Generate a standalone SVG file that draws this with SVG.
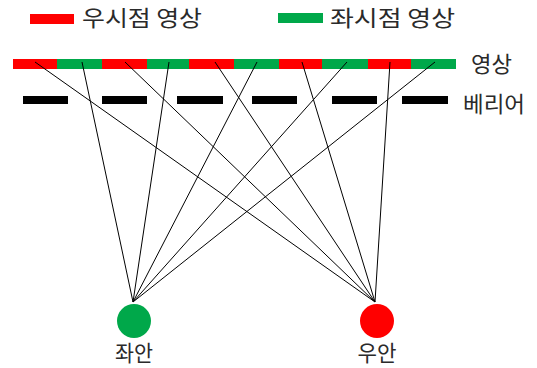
<svg xmlns="http://www.w3.org/2000/svg" width="537" height="368" viewBox="0 0 537 368">
<style>
.t{font-family:"Noto Sans CJK KR","Noto Sans",sans-serif;font-size:22px;fill:#2a2a2a}
.r{fill:#FF0000}
.g{fill:#00A84A}
.b{fill:#000}
.ln{stroke:#000;stroke-width:1;fill:none}
</style>
<rect width="537" height="368" fill="#fff"/>
<g id="legend-right">
<rect class="r" x="30" y="14" width="44" height="10"/>
<text class="t" x="82" y="26" textLength="120" lengthAdjust="spacingAndGlyphs">우시점 영상</text>
</g>
<g id="legend-left">
<rect class="g" x="278" y="13" width="45" height="10"/>
<text class="t" x="330" y="26" textLength="125" lengthAdjust="spacingAndGlyphs">좌시점 영상</text>
</g>
<g id="image">
<rect class="r" x="13" y="59" width="44" height="10"/>
<rect class="g" x="57" y="59" width="45" height="10"/>
<rect class="r" x="102" y="59" width="45" height="10"/>
<rect class="g" x="147" y="59" width="42" height="10"/>
<rect class="r" x="189" y="59" width="45" height="10"/>
<rect class="g" x="234" y="59" width="45" height="10"/>
<rect class="r" x="279" y="59" width="43" height="10"/>
<rect class="g" x="322" y="59" width="46" height="10"/>
<rect class="r" x="368" y="59" width="43" height="10"/>
<rect class="g" x="411" y="59" width="45" height="10"/>
<text class="t" x="471" y="72" textLength="41" lengthAdjust="spacingAndGlyphs">영상</text>
</g>
<g id="barrier">
<rect class="b" x="23" y="96" width="45" height="8"/>
<rect class="b" x="102" y="96" width="45" height="8"/>
<rect class="b" x="177" y="96" width="46" height="8"/>
<rect class="b" x="252" y="96" width="45" height="8"/>
<rect class="b" x="332" y="96" width="45" height="8"/>
<rect class="b" x="402" y="96" width="46" height="8"/>
<text class="t" x="463" y="112" textLength="62" lengthAdjust="spacingAndGlyphs">베리어</text>
</g>
<g id="connectors">
<line class="ln" x1="35" y1="62" x2="375" y2="302"/>
<line class="ln" x1="82" y1="62" x2="133" y2="302"/>
<line class="ln" x1="125" y1="62" x2="375" y2="302"/>
<line class="ln" x1="169" y1="62" x2="133" y2="302"/>
<line class="ln" x1="215" y1="62" x2="375" y2="302"/>
<line class="ln" x1="257" y1="62" x2="133" y2="302"/>
<line class="ln" x1="302" y1="62" x2="375" y2="302"/>
<line class="ln" x1="347" y1="62" x2="133" y2="302"/>
<line class="ln" x1="390" y1="62" x2="375" y2="302"/>
<line class="ln" x1="435" y1="62" x2="133" y2="302"/>
</g>
<g id="left-eye">
<circle class="g" cx="134" cy="321" r="17"/>
<text class="t" x="134" y="361" text-anchor="middle" textLength="38" lengthAdjust="spacingAndGlyphs">좌안</text>
</g>
<g id="right-eye">
<circle class="r" cx="377" cy="321" r="17"/>
<text class="t" x="377" y="361" text-anchor="middle" textLength="39" lengthAdjust="spacingAndGlyphs">우안</text>
</g>
</svg>
